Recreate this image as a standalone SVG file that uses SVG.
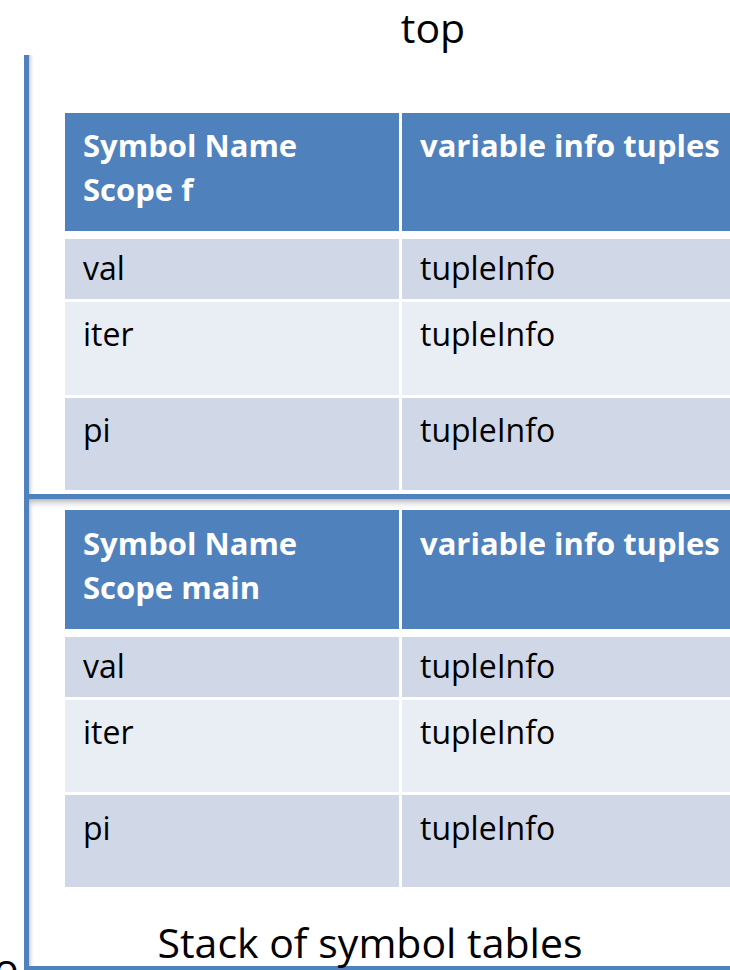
<svg xmlns="http://www.w3.org/2000/svg" width="730" height="970" viewBox="0 0 730 970">
  <defs>
    <linearGradient id="shadowDown" x1="0" y1="0" x2="0" y2="1">
      <stop offset="0" stop-color="#9a9a9a" stop-opacity="0.7"/>
      <stop offset="1" stop-color="#ffffff" stop-opacity="0"/>
    </linearGradient>
    <linearGradient id="shadowRight" x1="0" y1="0" x2="1" y2="0">
      <stop offset="0" stop-color="#9a9a9a" stop-opacity="0.5"/>
      <stop offset="1" stop-color="#ffffff" stop-opacity="0"/>
    </linearGradient>
  </defs>
  <style>
    .hdr { fill: #4f81bd; }
    .rowA { fill: #d0d8e8; }
    .rowB { fill: #e9edf4; }
    .axis { fill: #4f81bd; }
    .th { font-family: "Open Sans", "Liberation Sans", sans-serif; font-weight: bold; font-size: 31px; fill: #ffffff; }
    .td { font-family: "Open Sans", "Liberation Sans", sans-serif; font-size: 32px; fill: #000000; }
    .cap { font-family: "Open Sans", "Liberation Sans", sans-serif; font-size: 41px; fill: #000000; }
  </style>

  <rect x="0" y="0" width="730" height="970" fill="#ffffff"/>

  <!-- stack frame lines -->
  <g id="connectors">
    <rect x="29" y="55" width="6" height="915" fill="url(#shadowRight)"/>
    <rect x="24" y="55" width="5" height="915" class="axis"/>
    <rect x="29" y="499" width="701" height="11" fill="url(#shadowDown)"/>
    <rect x="24" y="494" width="706" height="5" class="axis"/>
    <rect x="24" y="966" width="706" height="4" class="axis"/>
  </g>

  <text class="cap" x="433" y="43" text-anchor="middle" font-size="36">top</text>

  <!-- symbol table for scope f -->
  <g id="table-f">
    <rect x="65" y="113" width="334" height="118" class="hdr"/>
    <rect x="402" y="113" width="328" height="118" class="hdr"/>
    <rect x="65" y="239" width="334" height="60" class="rowA"/>
    <rect x="402" y="239" width="328" height="60" class="rowA"/>
    <rect x="65" y="302" width="334" height="93" class="rowB"/>
    <rect x="402" y="302" width="328" height="93" class="rowB"/>
    <rect x="65" y="398" width="334" height="92" class="rowA"/>
    <rect x="402" y="398" width="328" height="92" class="rowA"/>
    <text class="th" x="83" y="157">Symbol Name</text>
    <text class="th" x="83" y="201">Scope f</text>
    <text class="th" x="420" y="157">variable info tuples</text>
    <text class="td" x="83" y="280">val</text>
    <text class="td" x="420" y="280">tupleInfo</text>
    <text class="td" x="83" y="346">iter</text>
    <text class="td" x="420" y="346">tupleInfo</text>
    <text class="td" x="83" y="442">pi</text>
    <text class="td" x="420" y="442">tupleInfo</text>
  </g>

  <!-- symbol table for scope main -->
  <g id="table-main">
    <rect x="65" y="510" width="334" height="119" class="hdr"/>
    <rect x="402" y="510" width="328" height="119" class="hdr"/>
    <rect x="65" y="637" width="334" height="60" class="rowA"/>
    <rect x="402" y="637" width="328" height="60" class="rowA"/>
    <rect x="65" y="700" width="334" height="92" class="rowB"/>
    <rect x="402" y="700" width="328" height="92" class="rowB"/>
    <rect x="65" y="795" width="334" height="92" class="rowA"/>
    <rect x="402" y="795" width="328" height="92" class="rowA"/>
    <text class="th" x="83" y="555">Symbol Name</text>
    <text class="th" x="83" y="599">Scope main</text>
    <text class="th" x="420" y="555">variable info tuples</text>
    <text class="td" x="83" y="678">val</text>
    <text class="td" x="420" y="678">tupleInfo</text>
    <text class="td" x="83" y="744">iter</text>
    <text class="td" x="420" y="744">tupleInfo</text>
    <text class="td" x="83" y="840">pi</text>
    <text class="td" x="420" y="840">tupleInfo</text>
  </g>

  <text class="cap" x="370" y="958" text-anchor="middle">Stack of symbol tables</text>
  <text class="cap" x="-6" y="983">o</text>
</svg>
